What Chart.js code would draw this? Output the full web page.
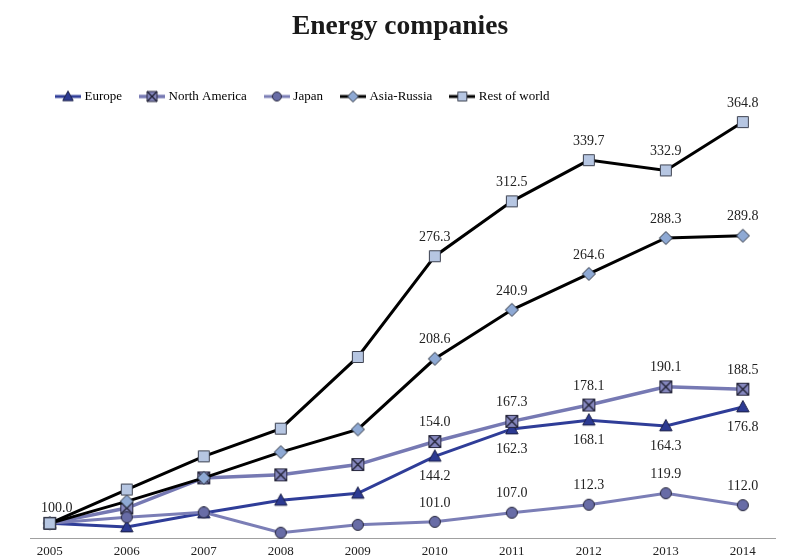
<!DOCTYPE html>
<html>
<head>
<meta charset="utf-8">
<title>Energy companies</title>
<script src="https://cdn.jsdelivr.net/npm/chart.js@4/dist/chart.umd.min.js"></script>
<style>
  html, body { margin: 0; padding: 0; background: #ffffff; }
  #wrap { width: 785px; height: 558px; position: relative; }
</style>
</head>
<body>
<div id="wrap"><canvas id="chart"></canvas></div>
<script>
// Index values, 2005 = 100
const years = [2005, 2006, 2007, 2008, 2009, 2010, 2011, 2012, 2013, 2014];
const seriesNames = ['Europe', 'North America', 'Japan', 'Asia-Russia', 'Rest of world'];
const europe       = [100.0,  97.6, 106.8, 115.2, 119.8, 144.2, 162.3, 168.1, 164.3, 176.8];
const northAmerica = [100.0, 110.1, 130.0, 132.0, 138.8, 154.0, 167.3, 178.1, 190.1, 188.5];
const japan        = [100.0, 104.0, 107.3,  93.8,  99.0, 101.0, 107.0, 112.3, 119.9, 112.0];
const asiaRussia   = [100.0, 114.5, 130.0, 147.0, 162.0, 208.6, 240.9, 264.6, 288.3, 289.8];
const restOfWorld  = [100.0, 122.3, 144.2, 162.5, 209.8, 276.3, 312.5, 339.7, 332.9, 364.8];
const seriesValues = [europe, northAmerica, japan, asiaRussia, restOfWorld];

const SERIF = "'Liberation Serif', 'Times New Roman', serif";

// Look of each series: line colour, marker shape and marker fill
const looks = [
  { line: '#2f3d98', width: 3,   marker: 'triangle', fill: '#2c3a92', edge: '#1b1f45', size: 6.5 },
  { line: '#7679b3', width: 3.5, marker: 'xsquare',  fill: '#8587be', edge: '#2a2a40', size: 6 },
  { line: '#7b7eb6', width: 3,   marker: 'circle',   fill: '#686ca6', edge: '#25253a', size: 5.5 },
  { line: '#000000', width: 3,   marker: 'diamond',  fill: '#8ea9d4', edge: '#2d3340', size: 6.5 },
  { line: '#000000', width: 3,   marker: 'square',   fill: '#b6c6e2', edge: '#3d4250', size: 5.5 }
];

// Draws one marker centred on (cx, cy)
function drawMarker(ctx, look, cx, cy, r) {
  ctx.save();
  ctx.fillStyle = look.fill;
  ctx.strokeStyle = look.edge;
  ctx.lineWidth = 1;
  ctx.beginPath();
  if (look.marker === 'triangle') {
    ctx.moveTo(cx, cy - r);
    ctx.lineTo(cx + r * 0.95, cy + r * 0.75);
    ctx.lineTo(cx - r * 0.95, cy + r * 0.75);
    ctx.closePath();
  } else if (look.marker === 'circle') {
    ctx.arc(cx, cy, r, 0, Math.PI * 2);
  } else if (look.marker === 'diamond') {
    ctx.moveTo(cx, cy - r);
    ctx.lineTo(cx + r, cy);
    ctx.lineTo(cx, cy + r);
    ctx.lineTo(cx - r, cy);
    ctx.closePath();
  } else {
    ctx.rect(cx - r, cy - r, r * 2, r * 2);
  }
  ctx.fill();
  ctx.stroke();
  if (look.marker === 'xsquare') {
    ctx.beginPath();
    ctx.lineWidth = 1.3;
    ctx.strokeStyle = '#1e1e30';
    ctx.moveTo(cx - r, cy - r); ctx.lineTo(cx + r, cy + r);
    ctx.moveTo(cx + r, cy - r); ctx.lineTo(cx - r, cy + r);
    ctx.stroke();
  }
  ctx.restore();
}

// Marker image used on the plotted points
function markerImage(look) {
  const s = Math.ceil(look.size * 2 + 3);
  const c = document.createElement('canvas');
  c.width = s; c.height = s;
  drawMarker(c.getContext('2d'), look, s / 2, s / 2, look.size);
  return c;
}

// Legend swatch: a short line with the marker in the middle
function legendImage(look) {
  const c = document.createElement('canvas');
  c.width = 26; c.height = 14;
  const ctx = c.getContext('2d');
  ctx.strokeStyle = look.line;
  ctx.lineWidth = look.width;
  ctx.beginPath();
  ctx.moveTo(0, 7); ctx.lineTo(26, 7);
  ctx.stroke();
  drawMarker(ctx, look, 13, 7, look.size - 1);
  return c;
}

const legendSwatches = looks.map(legendImage);

// Which points carry a printed value
const valueLabels = [
  { series: 4, indices: [5, 6, 7, 8, 9], place: 'above' },
  { series: 3, indices: [5, 6, 7, 8, 9], place: 'above' },
  { series: 1, indices: [5, 6, 7, 8, 9], place: 'above' },
  { series: 0, indices: [5, 6, 7, 8, 9], place: 'below' },
  { series: 2, indices: [5, 6, 7, 8, 9], place: 'above' },
  { series: 4, indices: [0], place: 'start' }
];

const valueLabelPlugin = {
  id: 'valueLabels',
  afterDatasetsDraw(chart) {
    const ctx = chart.ctx;
    ctx.save();
    ctx.font = '14px ' + SERIF;
    ctx.fillStyle = '#222222';
    ctx.textAlign = 'center';
    ctx.textBaseline = 'middle';
    valueLabels.forEach(spec => {
      const meta = chart.getDatasetMeta(spec.series);
      spec.indices.forEach(i => {
        const pt = meta.data[i];
        const text = seriesValues[spec.series][i].toFixed(1);
        let x = pt.x, y = pt.y;
        if (spec.place === 'above') y -= 19;
        else if (spec.place === 'below') y += 20;
        else { x += 7; y -= 15; }
        ctx.fillText(text, x, y);
      });
    });
    ctx.restore();
  }
};

// Moves the legend row so it starts near the left edge of the plot
const legendShiftPlugin = {
  id: 'legendShift',
  afterLayout(chart) {
    const lg = chart.legend;
    if (lg) { lg.left += 23; lg.right += 23; }
  }
};

// Later series are painted over earlier ones
const datasets = seriesNames.map((name, k) => {
  const look = looks[k];
  return {
    label: name,
    data: seriesValues[k].map((v, i) => ({ x: years[i], y: v })),
    borderColor: look.line,
    backgroundColor: look.fill,
    borderWidth: look.width,
    pointStyle: markerImage(look),
    pointRadius: look.size,
    pointHoverRadius: look.size,
    tension: 0,
    clip: false,
    order: seriesNames.length - 1 - k
  };
});

new Chart(document.getElementById('chart'), {
  type: 'line',
  data: { datasets },
  options: {
    responsive: true,
    maintainAspectRatio: false,
    animation: false,
    layout: { padding: { left: 15, right: 0, top: 0, bottom: -6.5 } },
    plugins: {
      title: {
        display: true,
        text: 'Energy companies',
        color: '#1a1a1a',
        font: { family: SERIF, size: 27.5, weight: 'bold' },
        padding: { top: 10, bottom: 27 }
      },
      legend: {
        display: true,
        align: 'start',
        labels: {
          usePointStyle: true,
          pointStyleWidth: 20,
          boxHeight: 13,
          padding: 20,
          color: '#222222',
          font: { family: SERIF, size: 13 },
          generateLabels(chart) {
            return chart.data.datasets.map((ds, k) => ({
              text: ds.label,
              pointStyle: legendSwatches[k],
              fillStyle: ds.backgroundColor,
              strokeStyle: ds.borderColor,
              lineWidth: 0,
              hidden: !chart.isDatasetVisible(k),
              datasetIndex: k
            }));
          }
        }
      },
      tooltip: { enabled: false }
    },
    scales: {
      x: {
        type: 'linear',
        min: 2004.743,
        max: 2014.424,
        afterBuildTicks(scale) {
          scale.ticks = years.map(v => ({ value: v }));
        },
        grid: { display: false, drawTicks: false },
        border: { display: true, color: '#a0a0a0', width: 1 },
        ticks: {
          padding: 6.5,
          color: '#222222',
          font: { family: SERIF, size: 13, lineHeight: 1.0 },
          maxRotation: 0,
          autoSkip: false,
          callback: v => String(v)
        }
      },
      y: {
        display: true,
        min: 90.0,
        max: 370.8,
        afterFit(scale) { scale.width = 15; },
        grid: { display: false, drawTicks: false },
        border: { display: false },
        ticks: { display: false }
      }
    }
  },
  plugins: [valueLabelPlugin, legendShiftPlugin]
});
</script>
</body>
</html>
